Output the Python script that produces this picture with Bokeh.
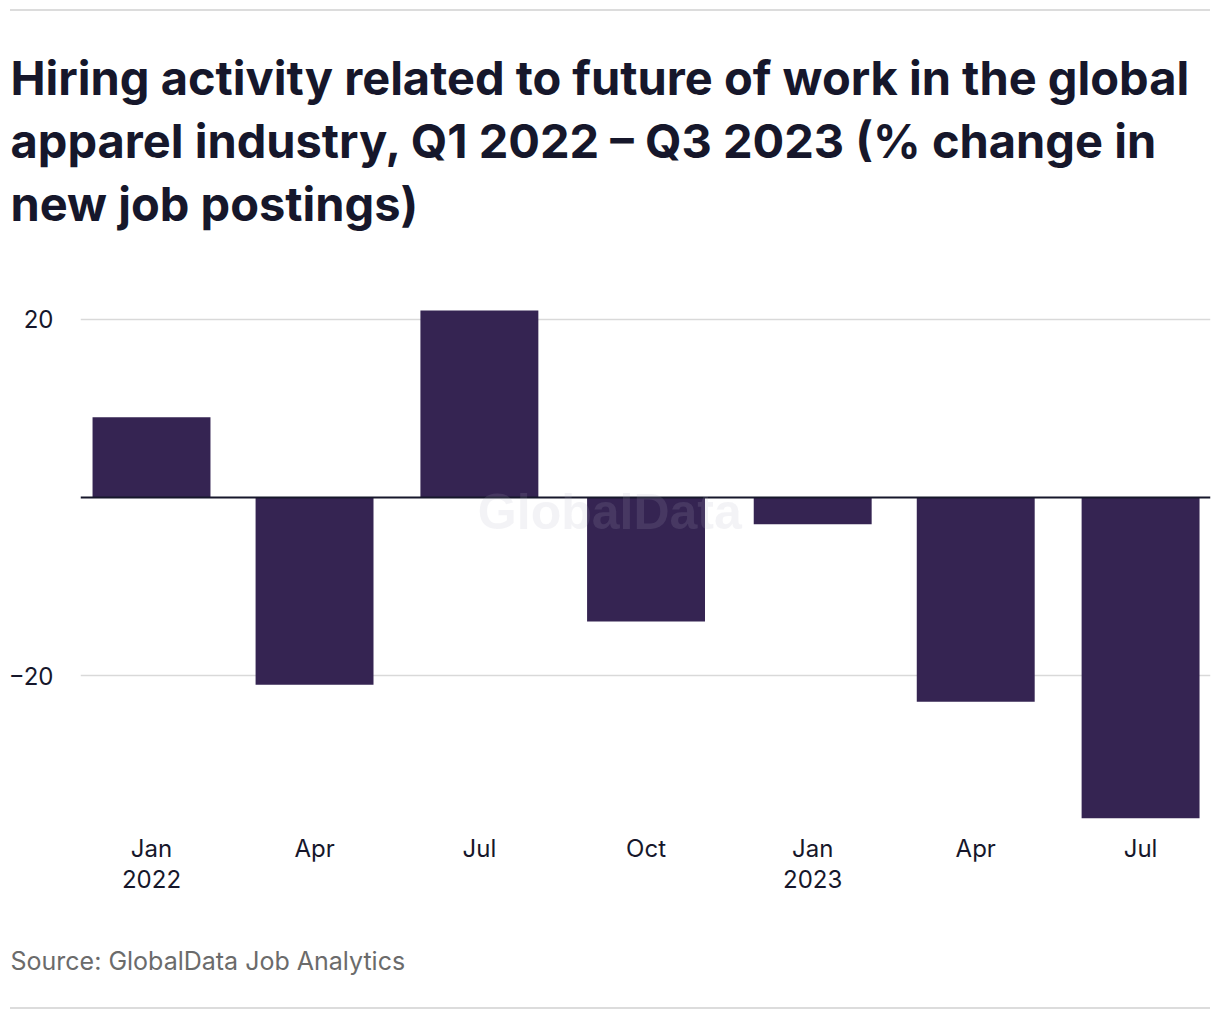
import pandas as pd
from bokeh.plotting import figure
from bokeh.models import Range1d, FixedTicker, Span, Title, Label, Div, ColumnDataSource
from bokeh.layouts import column
from bokeh.embed import file_html
from bokeh.resources import INLINE

# ---- data ----
quarters = ["2022-01-01", "2022-04-01", "2022-07-01", "2022-10-01",
            "2023-01-01", "2023-04-01", "2023-07-01"]
tick_labels = ["Jan\n2022", "Apr", "Jul", "Oct", "Jan\n2023", "Apr", "Jul"]
pct_change = [9.0, -21.0, 21.0, -13.9, -3.0, -22.9, -36.0]
y_ticks = [-20, 20]
y_tick_labels = ["\u221220", "20"]
title_lines = [
    "Hiring activity related to future of work in the global",
    "apparel industry, Q1 2022 \u2013 Q3 2023 (% change in",
    "new job postings)",
]
source_text = "Source: GlobalData Job Analytics"
watermark = "GlobalData"

# ---- styles ----
BAR = "#352452"
INK = "#16172b"
GRID = "#d9d9d9"
RULE = "#dcdcdc"
FONT = "Inter"
DAY = 86400000

ms = [int(pd.Timestamp(q).value // 10**6) for q in quarters]
src = ColumnDataSource(dict(x=ms, top=pct_change))

p = figure(width=1212, height=994, x_axis_type="datetime",
           x_range=Range1d(ms[0] - 39.2 * DAY, ms[0] + 584.6 * DAY),
           y_range=Range1d(-36.8, 22.45),
           output_backend="svg", toolbar_location=None, title_location=None,
           min_border_left=80, min_border_right=2, min_border_top=286,
           min_border_bottom=180, outline_line_color=None,
           background_fill_color="white", border_fill_color="white")

p.vbar(x="x", top="top", bottom=0, width=65.1 * DAY, source=src,
       fill_color=BAR, line_color=None)

p.add_layout(Span(location=0, dimension="width", line_color=INK, line_width=2))

p.add_layout(Label(x=ms[0] + 253 * DAY, y=-1.6, text=watermark,
                   text_align="center", text_baseline="middle",
                   text_font="Liberation Sans", text_font_style="bold",
                   text_font_size="50px", text_color="#b0b0c0", text_alpha=0.15))

# y axis
p.yaxis.ticker = FixedTicker(ticks=y_ticks)
p.yaxis.major_label_overrides = dict(zip(y_ticks, y_tick_labels))
p.yaxis.axis_line_color = None
p.yaxis.major_tick_line_color = None
p.yaxis.minor_tick_line_color = None
p.yaxis.major_label_standoff = 21
p.yaxis.major_label_text_font = FONT
p.yaxis.major_label_text_font_size = "24px"
p.yaxis.major_label_text_color = INK

p.ygrid.ticker = FixedTicker(ticks=y_ticks)
p.ygrid.grid_line_color = GRID
p.ygrid.grid_line_width = 1.5
p.xgrid.visible = False

# x axis
p.xaxis.ticker = FixedTicker(ticks=ms)
p.xaxis.major_label_overrides = dict(zip(ms, tick_labels))
p.xaxis.axis_line_color = None
p.xaxis.major_tick_line_color = None
p.xaxis.minor_tick_line_color = None
p.xaxis.major_label_standoff = 2
p.xaxis.major_label_text_font = FONT
p.xaxis.major_label_text_font_size = "24px"
p.xaxis.major_label_text_line_height = 1.08
p.xaxis.major_label_text_color = INK

# spacer between plot frame and title block
p.add_layout(Title(text=" ", text_font_size="1px", standoff=61), "above")
# title lines (added innermost first)
for line in reversed(title_lines):
    p.add_layout(Title(text=line, align="left", offset=-70, standoff=4,
                       text_font=FONT, text_font_style="bold",
                       text_font_size="47px", text_color=INK), "above")

# spacer below the axis, then source note
p.add_layout(Title(text=" ", text_font_size="1px", standoff=44), "below")
p.add_layout(Title(text=source_text, align="left", offset=-70, standoff=0,
                   text_font=FONT, text_font_style="normal",
                   text_font_size="25px", text_color="#6b6b6b"), "below")

top_rule = Div(text="", width=1200, height=2, margin=(9, 0, 0, 10),
               styles={"background-color": RULE})
bottom_rule = Div(text="", width=1200, height=2, margin=(2, 0, 0, 10),
                  styles={"background-color": RULE})

layout = column(top_rule, p, bottom_rule)
open("out.html", "w").write(file_html(layout, INLINE))
